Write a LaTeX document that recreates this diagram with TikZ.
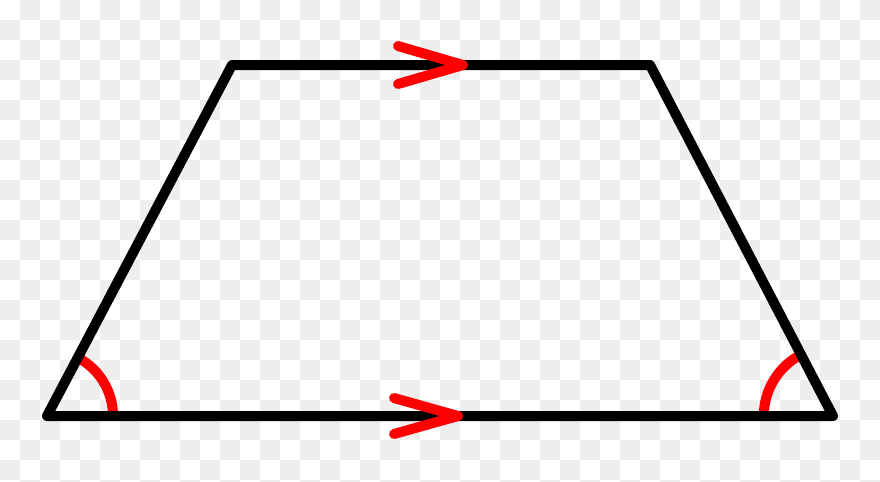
\documentclass[tikz,border=0pt]{standalone}
\usetikzlibrary{angles}
\definecolor{checkgray}{HTML}{EEEEEE}
\definecolor{markred}{HTML}{FF0000}
\begin{document}
\begin{tikzpicture}[
    x=0.025cm, y=-0.025cm,
    side/.style={draw=black, line width=0.25cm, line join=round, line cap=round},
    parmark/.style={draw=markred, line width=0.25cm, line cap=round, line join=round},
    anglemark/.style={draw=markred, line width=0.25cm}
]

% Checkered background
\useasboundingbox (0,0) rectangle (880,481);
\fill[white] (0,0) rectangle (880,481);
\foreach \i in {0,...,43} {
  \foreach \j in {0,...,24} {
    \pgfmathparse{int(mod(\i+\j,2))}
    \ifnum\pgfmathresult=1
      \fill[checkgray] (20*\i,20*\j) rectangle ++(20,20);
    \fi
  }
}

% Vertices
\coordinate (BL) at (47,416);
\coordinate (BR) at (833,416);
\coordinate (TR) at (650,65);
\coordinate (TL) at (232,65);

% Angle arcs
\path pic[anglemark, angle radius=1.65cm] {angle=BR--BL--TL};
\path pic[anglemark, angle radius=1.73cm] {angle=TR--BR--BL};

% Trapezoid
\draw[side] (BL) -- (BR) -- (TR) -- (TL) -- cycle;

% Parallel marks
\coordinate (topmark) at (463,65);
\coordinate (botmark) at (458,416);
\draw[parmark] (398,46) -- (topmark) -- (398,84);
\draw[parmark] (394,398) -- (botmark) -- (394,434);

\end{tikzpicture}
\end{document}
